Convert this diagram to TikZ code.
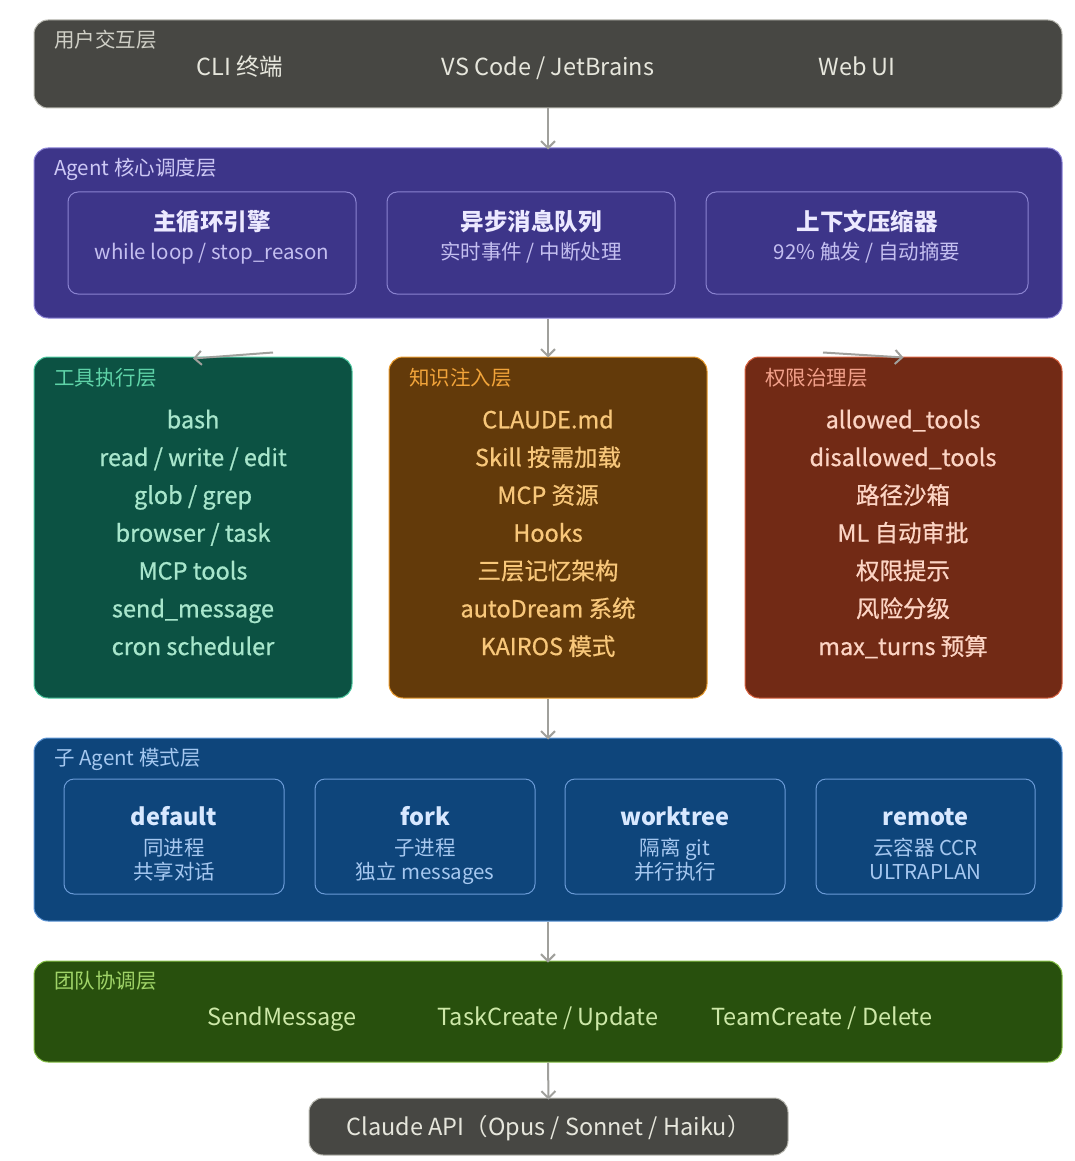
\documentclass[tikz,border=0pt]{standalone}
\usepackage{fontspec}
\setmainfont{Noto Sans CJK SC}
\newfontfamily\semibf[FakeBold=0.7]{Noto Sans CJK SC}
\usetikzlibrary{arrows.meta}
\definecolor{uiF}{HTML}{474743}
\definecolor{uiS}{HTML}{B8B8B0}
\definecolor{uiL}{HTML}{CFCFC6}
\definecolor{uiT}{HTML}{E6E6DC}
\definecolor{coF}{HTML}{3D3589}
\definecolor{coS}{HTML}{8E86D8}
\definecolor{coL}{HTML}{CDC8F5}
\definecolor{coI}{HTML}{8A83D0}
\definecolor{coT}{HTML}{ECE9FF}
\definecolor{coU}{HTML}{C4BFF0}
\definecolor{tlF}{HTML}{0C5243}
\definecolor{tlS}{HTML}{4CC9A0}
\definecolor{tlL}{HTML}{5FD3A8}
\definecolor{tlT}{HTML}{A8E6CC}
\definecolor{knF}{HTML}{633A0A}
\definecolor{knS}{HTML}{E89A2C}
\definecolor{knL}{HTML}{F2A43A}
\definecolor{knT}{HTML}{F8C77A}
\definecolor{peF}{HTML}{722A15}
\definecolor{peS}{HTML}{D8603E}
\definecolor{peL}{HTML}{F2A08A}
\definecolor{peT}{HTML}{FCD4C4}
\definecolor{sbF}{HTML}{0E457B}
\definecolor{sbS}{HTML}{5C94D4}
\definecolor{sbL}{HTML}{A5C8F0}
\definecolor{sbI}{HTML}{6A9AD6}
\definecolor{sbT}{HTML}{D8E8FF}
\definecolor{sbU}{HTML}{A6C8F0}
\definecolor{tmF}{HTML}{28500D}
\definecolor{tmS}{HTML}{86C046}
\definecolor{tmL}{HTML}{A0D468}
\definecolor{tmT}{HTML}{CDE8A8}
\definecolor{arC}{HTML}{A0A09C}
\begin{document}
\begin{tikzpicture}[x=1pt,y=-1pt,
  layerbox/.style={draw, rounded corners=14pt, line width=1pt, inner sep=0pt},
  innerbox/.style={draw, rounded corners=10pt, line width=1pt, inner sep=0pt},
  lab/.style={anchor=base west, yshift=-7.5pt, inner sep=0pt, font=\fontsize{20.5}{24}\selectfont},
  item/.style={anchor=base, yshift=-8.5pt, inner sep=0pt, font=\fontsize{23.5}{28}\selectfont},
  sitem/.style={anchor=base, yshift=-8.5pt, inner sep=0pt, font=\fontsize{23.5}{28}\semibf},
  bitem/.style={anchor=base, yshift=-8.5pt, inner sep=0pt, font=\fontsize{23.5}{28}\selectfont\bfseries},
  sub/.style={anchor=base, yshift=-7.5pt, inner sep=0pt, align=center, font=\fontsize{20.5}{24}\selectfont},
  arr/.style={draw=arC, line width=2pt, -{Straight Barb[length=7pt,width=14pt]}}
]
\useasboundingbox (0,0) rectangle (1074,1161);

% Layer 1
\node[layerbox, fill=uiF, draw=uiS, minimum width=1028pt, minimum height=88pt] (ui) at (548,64) {};
\node[lab, text=uiL] (uilab) at (54,40) {用户交互层};
\node[item, text=uiT] (cli) at (240,67) {CLI 终端};
\node[item, text=uiT] (ide) at (548,67) {VS Code / JetBrains};
\node[item, text=uiT] (web) at (857,67) {Web UI};

% Layer 2
\node[layerbox, fill=coF, draw=coS, minimum width=1028pt, minimum height=170pt] (core) at (548,233) {};
\node[lab, text=coL] (colab) at (54,168) {Agent 核心调度层};
\node[innerbox, draw=coI, minimum width=288pt, minimum height=102pt] (eng) at (212,243) {};
\node[innerbox, draw=coI, minimum width=288pt, minimum height=102pt] (que) at (531,243) {};
\node[innerbox, draw=coI, minimum width=322pt, minimum height=102pt] (cmp) at (867,243) {};
\node[bitem, text=coT] (engT) at (212,222) {主循环引擎};
\node[sub, text=coU] (engU) at (212,252) {while loop / stop\_reason};
\node[bitem, text=coT] (queT) at (531,222) {异步消息队列};
\node[sub, text=coU] (queU) at (531,252) {实时事件 / 中断处理};
\node[bitem, text=coT] (cmpT) at (867,222) {上下文压缩器};
\node[sub, text=coU] (cmpU) at (867,252) {92\% 触发 / 自动摘要};

% Layer 3
\node[layerbox, fill=tlF, draw=tlS, minimum width=318pt, minimum height=341pt] (tools) at (193,527.5) {};
\node[layerbox, fill=knF, draw=knS, minimum width=318pt, minimum height=341pt] (know) at (548,527.5) {};
\node[layerbox, fill=peF, draw=peS, minimum width=317pt, minimum height=341pt] (perm) at (903.5,527.5) {};
\node[lab, text=tlL] (tllab) at (54,378) {工具执行层};
\node[lab, text=knL] (knlab) at (409,378) {知识注入层};
\node[lab, text=peL] (pelab) at (765,378) {权限治理层};
\foreach \t [count=\i] in {bash, read / write / edit, glob / grep, browser / task, MCP tools, send\_message, cron scheduler}
  \node[sitem, text=tlT] (tl\i) at (193,{382+37.8*\i}) {\t};
\foreach \t [count=\i] in {CLAUDE.md, Skill 按需加载, MCP 资源, Hooks, 三层记忆架构, autoDream 系统, KAIROS 模式}
  \node[sitem, text=knT] (kn\i) at (548,{382+37.8*\i}) {\t};
\foreach \t [count=\i] in {allowed\_tools, disallowed\_tools, 路径沙箱, ML 自动审批, 权限提示, 风险分级, max\_turns 预算}
  \node[sitem, text=peT] (pe\i) at (903,{382+37.8*\i}) {\t};

% Layer 5
\node[layerbox, fill=sbF, draw=sbS, minimum width=1028pt, minimum height=183pt] (subl) at (548,829.5) {};
\node[lab, text=sbL] (sblab) at (54,758) {子 Agent 模式层};
\node[innerbox, draw=sbI, minimum width=220pt, minimum height=115pt] (m1) at (174,836.5) {};
\node[innerbox, draw=sbI, minimum width=220pt, minimum height=115pt] (m2) at (425,836.5) {};
\node[innerbox, draw=sbI, minimum width=220pt, minimum height=115pt] (m3) at (675,836.5) {};
\node[innerbox, draw=sbI, minimum width=219pt, minimum height=115pt] (m4) at (925.5,836.5) {};
\node[bitem, text=sbT] (m1T) at (174,817) {default};
\node[sub, text=sbU] (m1U) at (174,872) {同进程\\共享对话};
\node[bitem, text=sbT] (m2T) at (425,817) {fork};
\node[sub, text=sbU] (m2U) at (425,872) {子进程\\独立 messages};
\node[bitem, text=sbT] (m3T) at (675,817) {worktree};
\node[sub, text=sbU] (m3U) at (675,872) {隔离 git\\并行执行};
\node[bitem, text=sbT] (m4T) at (925.5,817) {remote};
\node[sub, text=sbU] (m4U) at (925.5,872) {云容器 CCR\\ULTRAPLAN};

% Layer 6
\node[layerbox, fill=tmF, draw=tmS, minimum width=1028pt, minimum height=101pt] (team) at (548,1011.5) {};
\node[lab, text=tmL] (tmlab) at (54,981) {团队协调层};
\node[item, text=tmT] (sm) at (282,1017) {SendMessage};
\node[item, text=tmT] (tc) at (548,1017) {TaskCreate / Update};
\node[item, text=tmT] (tmc) at (822,1017) {TeamCreate / Delete};

% API
\node[layerbox, fill=uiF, draw=uiS, minimum width=479pt, minimum height=57pt] (api) at (548.5,1126.5) {};
\node[item, text=uiT] (apiT) at (548.5,1127) {Claude API（Opus / Sonnet / Haiku）};

% Arrows
\draw[arr] (ui.south) -- ([yshift=-2pt]core.north);
\draw[arr] (core.south) -- ([yshift=-1pt]know.north);
\draw[arr] (know.south) -- ([yshift=-2pt]subl.north);
\draw[arr] (subl.south) -- ([yshift=-2pt]team.north);
\draw[arr] (team.south) -- ([yshift=-2pt]api.north);
\coordinate (tlsrc) at (273,352.5);
\coordinate (pesrc) at (823,352.5);
\draw[arr] (tlsrc) -- ([yshift=-2pt]tools.north);
\draw[arr] (pesrc) -- ([yshift=-1pt]perm.north);
\end{tikzpicture}
\end{document}
